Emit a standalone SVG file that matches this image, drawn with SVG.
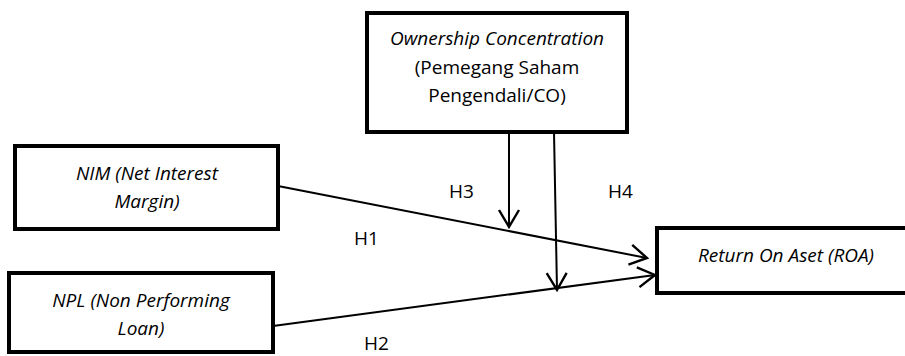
<svg xmlns="http://www.w3.org/2000/svg" width="905" height="356" viewBox="0 0 905 356">
<defs>
<style>
.box{fill:#fff;stroke:#000;stroke-width:4}
.t{font-family:"Open Sans","Noto Sans",sans-serif;font-size:19px;fill:#000;text-anchor:middle}
.i{font-style:italic}
.ln{stroke:#000;stroke-width:2;fill:none;marker-end:url(#arr)}
.lb{font-family:"Open Sans","Noto Sans",sans-serif;font-size:19px;fill:#000}
</style>
<marker id="arr" markerWidth="24" markerHeight="24" refX="20" refY="12" markerUnits="userSpaceOnUse" orient="auto" overflow="visible">
<path d="M3,2 L20,12 L3,22" fill="none" stroke="#000" stroke-width="2.4"/>
</marker>
</defs>
<rect width="905" height="356" fill="#fff"/>
<g id="co">
<rect class="box" x="367" y="13" width="260" height="119"/>
<text class="t i" x="497" y="45">Ownership Concentration</text>
<text class="t" x="497" y="74">(Pemegang Saham</text>
<text class="t" x="497" y="102">Pengendali/CO)</text>
</g>
<g id="nim">
<rect class="box" x="15" y="146" width="263" height="83"/>
<text class="t i" x="147" y="180">NIM (Net Interest</text>
<text class="t i" x="147" y="208">Margin)</text>
</g>
<g id="npl">
<rect class="box" x="9" y="273" width="264" height="79"/>
<text class="t i" x="141" y="307">NPL (Non Performing</text>
<text class="t i" x="141" y="335">Loan)</text>
</g>
<g id="roa">
<rect class="box" x="657" y="228" width="260" height="65"/>
<text class="t i" x="786" y="262">Return On Aset (ROA)</text>
</g>
<g id="connectors">
<line class="ln" x1="278" y1="186" x2="647" y2="258"/>
<line class="ln" x1="273" y1="326" x2="655" y2="275"/>
<line class="ln" x1="509" y1="132" x2="509" y2="227"/>
<line class="ln" x1="554" y1="132" x2="557" y2="290"/>
</g>
<g id="labels">
<text class="lb" x="449" y="198">H3</text>
<text class="lb" x="608" y="198">H4</text>
<text class="lb" x="354" y="245">H1</text>
<text class="lb" x="364" y="350">H2</text>
</g>
</svg>
